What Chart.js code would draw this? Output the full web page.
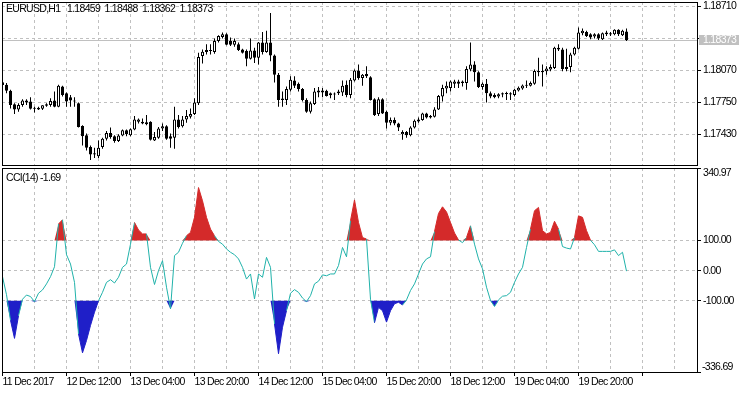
<!DOCTYPE html>
<html>
<head>
<meta charset="utf-8">
<script src="https://cdn.jsdelivr.net/npm/chart.js@4.4.1/dist/chart.umd.min.js"></script>
<style>
  body { margin: 0; background: #fff; }
  #wrap { position: relative; width: 750px; height: 394px; }
  canvas { position: absolute; left: 0; }
  #priceChart { top: 0; }
  #cciChart { top: 166px; }
</style>
</head>
<body>
<div id="wrap">
  <canvas id="priceChart" width="750" height="168"></canvas>
  <canvas id="cciChart" width="750" height="228"></canvas>
</div>
<script>
// EURUSD H1 candles + CCI(14)
const symbol = 'EURUSD,H1';
const cciName = 'CCI(14)';

// one date label every 16 bars, starting at bar 0
const dateLabels = ['11 Dec 2017', '12 Dec 12:00', '13 Dec 04:00', '13 Dec 20:00', '14 Dec 12:00',
    '15 Dec 04:00', '15 Dec 20:00', '18 Dec 12:00', '19 Dec 04:00', '19 Dec 20:00'];

const opens = [1.17950, 1.17925, 1.17865, 1.17730, 1.17679, 1.17723, 1.17767, 1.17757, 1.17689, 1.17696,
    1.17686, 1.17716, 1.17723, 1.17767, 1.17706, 1.17909, 1.17841, 1.17801, 1.17767, 1.17740,
    1.17514, 1.17420, 1.17302, 1.17241, 1.17211, 1.17302, 1.17386, 1.17443, 1.17410, 1.17363,
    1.17417, 1.17470, 1.17420, 1.17477, 1.17555, 1.17555, 1.17551, 1.17555, 1.17369, 1.17396,
    1.17487, 1.17511, 1.17410, 1.17396, 1.17578, 1.17511, 1.17578, 1.17605, 1.17632, 1.17740,
    1.18212, 1.18252, 1.18262, 1.18252, 1.18363, 1.18404, 1.18431, 1.18363, 1.18326, 1.18330,
    1.18279, 1.18262, 1.18185, 1.18269, 1.18195, 1.18347, 1.18252, 1.18347, 1.18219, 1.18026,
    1.17774, 1.17774, 1.17875, 1.17969, 1.17936, 1.17882, 1.17774, 1.17656, 1.17733, 1.17868,
    1.17868, 1.17865, 1.17821, 1.17828, 1.17858, 1.17848, 1.17925, 1.17824, 1.17969, 1.18067,
    1.17993, 1.18033, 1.18000, 1.17780, 1.17632, 1.17780, 1.17656, 1.17545, 1.17572, 1.17538,
    1.17430, 1.17454, 1.17420, 1.17497, 1.17558, 1.17572, 1.17639, 1.17612, 1.17605, 1.17679,
    1.17807, 1.17888, 1.17892, 1.17936, 1.17959, 1.17942, 1.17942, 1.18077, 1.18128, 1.18050,
    1.17902, 1.17936, 1.17841, 1.17824, 1.17807, 1.17841, 1.17834, 1.17841, 1.17824, 1.17868,
    1.17888, 1.17915, 1.17915, 1.17936, 1.18064, 1.18064, 1.18060, 1.18077, 1.18094, 1.18296,
    1.18279, 1.18104, 1.18104, 1.18229, 1.18286, 1.18441, 1.18454, 1.18431, 1.18407, 1.18431,
    1.18380, 1.18448, 1.18441, 1.18431, 1.18475, 1.18421, 1.18459];

const highs = [1.17970, 1.17942, 1.17875, 1.17740, 1.17740, 1.17780, 1.17780, 1.17801, 1.17706, 1.17706,
    1.17720, 1.17740, 1.17791, 1.17858, 1.17925, 1.17915, 1.17848, 1.17824, 1.17801, 1.17747,
    1.17521, 1.17437, 1.17319, 1.17295, 1.17369, 1.17396, 1.17464, 1.17497, 1.17420, 1.17430,
    1.17477, 1.17477, 1.17487, 1.17612, 1.17588, 1.17588, 1.17622, 1.17561, 1.17454, 1.17504,
    1.17538, 1.17521, 1.17437, 1.17706, 1.17622, 1.17612, 1.17673, 1.17689, 1.17791, 1.18246,
    1.18279, 1.18330, 1.18330, 1.18387, 1.18421, 1.18448, 1.18441, 1.18397, 1.18387, 1.18347,
    1.18286, 1.18279, 1.18387, 1.18296, 1.18353, 1.18454, 1.18465, 1.18643, 1.18229, 1.18043,
    1.17858, 1.17909, 1.18010, 1.18010, 1.17949, 1.17892, 1.17791, 1.17757, 1.17892, 1.17902,
    1.17892, 1.17875, 1.17848, 1.17848, 1.17875, 1.17969, 1.17969, 1.17993, 1.18077, 1.18128,
    1.18033, 1.18111, 1.18010, 1.17791, 1.17801, 1.17791, 1.17666, 1.17599, 1.17599, 1.17545,
    1.17470, 1.17464, 1.17511, 1.17578, 1.17599, 1.17646, 1.17646, 1.17622, 1.17700, 1.17824,
    1.17925, 1.17959, 1.17969, 1.17976, 1.17976, 1.17969, 1.18111, 1.18347, 1.18161, 1.18060,
    1.17949, 1.17983, 1.17858, 1.17841, 1.17841, 1.17848, 1.17855, 1.17851, 1.17882, 1.17909,
    1.17929, 1.17969, 1.17959, 1.18077, 1.18195, 1.18128, 1.18111, 1.18128, 1.18306, 1.18330,
    1.18296, 1.18286, 1.18246, 1.18306, 1.18498, 1.18488, 1.18465, 1.18441, 1.18441, 1.18441,
    1.18448, 1.18465, 1.18454, 1.18481, 1.18481, 1.18475, 1.18488];

const lows = [1.17900, 1.17841, 1.17689, 1.17632, 1.17656, 1.17706, 1.17723, 1.17679, 1.17649, 1.17673,
    1.17673, 1.17706, 1.17706, 1.17700, 1.17700, 1.17807, 1.17706, 1.17706, 1.17706, 1.17497,
    1.17319, 1.17268, 1.17174, 1.17194, 1.17194, 1.17285, 1.17369, 1.17386, 1.17346, 1.17352,
    1.17410, 1.17410, 1.17410, 1.17470, 1.17538, 1.17531, 1.17521, 1.17369, 1.17363, 1.17386,
    1.17464, 1.17376, 1.17295, 1.17285, 1.17487, 1.17497, 1.17545, 1.17588, 1.17622, 1.17723,
    1.18138, 1.18229, 1.18229, 1.18235, 1.18347, 1.18387, 1.18320, 1.18313, 1.18306, 1.18262,
    1.18239, 1.18111, 1.18178, 1.18144, 1.18128, 1.18229, 1.18246, 1.18161, 1.17949, 1.17706,
    1.17706, 1.17723, 1.17858, 1.17892, 1.17858, 1.17757, 1.17646, 1.17639, 1.17723, 1.17801,
    1.17801, 1.17807, 1.17791, 1.17774, 1.17824, 1.17814, 1.17801, 1.17791, 1.17959, 1.17976,
    1.17915, 1.17993, 1.17767, 1.17612, 1.17612, 1.17632, 1.17487, 1.17521, 1.17521, 1.17464,
    1.17376, 1.17396, 1.17410, 1.17487, 1.17545, 1.17565, 1.17588, 1.17588, 1.17599, 1.17673,
    1.17757, 1.17841, 1.17858, 1.17892, 1.17892, 1.17909, 1.17875, 1.18060, 1.17959, 1.17892,
    1.17875, 1.17747, 1.17791, 1.17791, 1.17791, 1.17801, 1.17774, 1.17774, 1.17807, 1.17858,
    1.17875, 1.17892, 1.17909, 1.17925, 1.18010, 1.17909, 1.18026, 1.18060, 1.18084, 1.18262,
    1.18060, 1.18060, 1.18050, 1.18219, 1.18279, 1.18421, 1.18404, 1.18380, 1.18387, 1.18374,
    1.18374, 1.18414, 1.18414, 1.18421, 1.18414, 1.18414, 1.18362];

const closes = [1.17922, 1.17865, 1.17723, 1.17679, 1.17723, 1.17767, 1.17747, 1.17686, 1.17686, 1.17679,
    1.17720, 1.17730, 1.17764, 1.17706, 1.17915, 1.17824, 1.17757, 1.17767, 1.17757, 1.17504,
    1.17410, 1.17295, 1.17228, 1.17228, 1.17295, 1.17386, 1.17443, 1.17403, 1.17363, 1.17417,
    1.17470, 1.17430, 1.17481, 1.17578, 1.17578, 1.17538, 1.17531, 1.17376, 1.17403, 1.17487,
    1.17511, 1.17386, 1.17386, 1.17578, 1.17504, 1.17578, 1.17612, 1.17632, 1.17747, 1.18202,
    1.18256, 1.18273, 1.18273, 1.18363, 1.18414, 1.18431, 1.18326, 1.18326, 1.18363, 1.18273,
    1.18246, 1.18185, 1.18269, 1.18195, 1.18347, 1.18252, 1.18347, 1.18219, 1.18026, 1.17774,
    1.17787, 1.17882, 1.17976, 1.17915, 1.17882, 1.17774, 1.17656, 1.17740, 1.17858, 1.17848,
    1.17848, 1.17814, 1.17841, 1.17834, 1.17841, 1.17915, 1.17824, 1.17976, 1.18067, 1.17993,
    1.18026, 1.18010, 1.17774, 1.17622, 1.17780, 1.17639, 1.17545, 1.17572, 1.17538, 1.17497,
    1.17454, 1.17420, 1.17497, 1.17565, 1.17578, 1.17639, 1.17599, 1.17599, 1.17679, 1.17814,
    1.17892, 1.17915, 1.17959, 1.17959, 1.17936, 1.17959, 1.18084, 1.18128, 1.18050, 1.17902,
    1.17936, 1.17841, 1.17807, 1.17801, 1.17831, 1.17828, 1.17841, 1.17828, 1.17875, 1.17895,
    1.17919, 1.17925, 1.17942, 1.18064, 1.18050, 1.18050, 1.18087, 1.18104, 1.18296, 1.18279,
    1.18084, 1.18084, 1.18229, 1.18296, 1.18448, 1.18465, 1.18414, 1.18397, 1.18431, 1.18387,
    1.18441, 1.18431, 1.18427, 1.18475, 1.18431, 1.18465, 1.18373];

const cci = [-20, -80, -165, -225, -150, -95, -81, -86, -103, -75,
    -64, -44, -20, 13, 155, 169, 53, 22, -39, -210,
    -273, -232, -182, -138, -100, -72, -39, -30, -41, -22,
    11, 22, 88, 160, 135, 122, 122, 11, -46, 0,
    33, -55, -127, 50, 61, 91, 116, 127, 177, 276,
    232, 177, 138, 116, 97, 88, 72, 61, 53, 39,
    11, -28, -11, -94, -11, -22, 44, 11, -177, -276,
    -188, -133, -75, -63, -72, -91, -103, -83, -44, -35,
    -14, -17, -11, -11, 17, 77, 46, 166, 235, 160,
    110, 105, -95, -173, -122, -133, -171, -133, -110, -105,
    -114, -97, -66, -44, -11, 22, 39, 46, 130, 190,
    212, 195, 160, 125, 102, 93, 110, 149, 88, 39,
    6, -55, -99, -119, -97, -85, -83, -72, -39, -11,
    11, 77, 138, 199, 210, 133, 122, 127, 164, 138,
    80, 75, 72, 110, 182, 177, 133, 101, 86, 64,
    64, 64, 64, 69, 50, 61, -1.69];

// axis ranges and tick values as shown on the right scales
const priceRange = [1.17123, 1.18753];
const priceTicks = [1.17430, 1.17750, 1.18070, 1.18390, 1.18710];
const cciRange = [-336.69, 340.97];
const cciLevels = [100, 0, -100];

const FONT = "'Liberation Sans', Arial, sans-serif";
const font = { family: FONT, size: 10.5 };
const GRID = '#c0c0c0';
const CCI_LINE = '#20b2aa';
const CCI_HIGH = '#d42a2a';
const CCI_LOW = '#1f1fc8';

const last = closes.length - 1;
const idx = closes.map((_, i) => i);
const gridBars = [];
for (let i = 0; i <= 168; i += 8) gridBars.push(i);

// terminal font is narrow, tighten the spacing a bit
const tightText = {
    id: 'tightText',
    beforeDraw(chart) { chart.ctx.letterSpacing = '-0.7px'; }
};

// shared time axis: 4 px per bar, grid every 8 bars, labels every 16
const timeAxis = (showLabels) => ({
    type: 'linear',
    min: -0.125,
    max: 173.625,
    bounds: 'data',
    offset: false,
    afterBuildTicks: s => { s.ticks = gridBars.map(v => ({ value: v })); },
    afterFit: s => {
        s.height = showLabels ? 22 : 0;
        s.paddingLeft = 0; s.paddingRight = 0;
    },
    grid: {
        color: GRID,
        offset: false,
        drawTicks: showLabels,
        tickLength: 4,
        tickBorderDash: [],
        tickColor: c => (c.tick && c.tick.value % 16 === 0) ? '#000' : 'rgba(0,0,0,0)'
    },
    border: { display: false, dash: [3, 3] },
    ticks: {
        display: showLabels,
        autoSkip: false,
        maxRotation: 0,
        align: 'start',
        padding: 0,
        color: '#000',
        font,
        callback: v => v % 16 === 0 ? (dateLabels[v / 16] || '') : ''
    }
});

const frame = (chart) => {
    const { ctx, chartArea: a } = chart;
    ctx.save();
    ctx.strokeStyle = '#000';
    ctx.lineWidth = 1;
    ctx.strokeRect(a.left + 0.5, a.top + 0.5, a.right - a.left, a.bottom - a.top);
    ctx.restore();
};

// Price pane
const priceDecor = {
    id: 'priceDecor',
    beforeDatasetsDraw(chart) {
        const { ctx, chartArea: a, scales: { y } } = chart;
        const py = Math.round(y.getPixelForValue(closes[last])) + 0.5;
        ctx.save();
        ctx.strokeStyle = GRID;
        ctx.lineWidth = 1;
        ctx.beginPath();
        ctx.moveTo(a.left, py);
        ctx.lineTo(a.right, py);
        ctx.stroke();
        ctx.restore();
    },
    afterDraw(chart) {
        const { ctx, chartArea: a, scales: { y } } = chart;
        frame(chart);
        ctx.save();
        ctx.font = `10.5px ${FONT}`;
        ctx.textBaseline = 'middle';
        ctx.fillStyle = '#000';
        const ohlc = [opens[last], highs[last], lows[last], closes[last]].map(v => v.toFixed(5)).join('  ');
        ctx.fillText(symbol, 6, 9);
        ctx.fillText(ohlc, 67, 9);
        const py = Math.round(y.getPixelForValue(closes[last]));
        ctx.fillStyle = GRID;
        ctx.fillRect(a.right + 2, py - 5, 40, 10);
        ctx.fillStyle = '#fff';
        ctx.fillText(closes[last].toFixed(5), a.right + 6, py + 0.5);
        ctx.restore();
    }
};

new Chart(document.getElementById('priceChart'), {
    type: 'bar',
    data: {
        datasets: [{
            // candle bodies
            data: idx.map(i => ({ x: i, y: [opens[i], closes[i]] })),
            backgroundColor: idx.map(i => closes[i] >= opens[i] ? '#ffffff' : '#000000'),
            borderColor: '#000',
            borderWidth: 1,
            borderSkipped: false,
            barThickness: 3,
            minBarLength: 1,
            inflateAmount: 0,
            grouped: false,
            order: 0
        }, {
            // wicks
            data: idx.map(i => ({ x: i, y: [lows[i], highs[i]] })),
            backgroundColor: '#000',
            borderWidth: 0,
            barThickness: 1,
            inflateAmount: 0,
            grouped: false,
            order: 1
        }]
    },
    options: {
        responsive: false,
        animation: false,
        events: [],
        layout: { padding: { left: 2, top: 2, right: 0, bottom: 3 } },
        plugins: { legend: { display: false }, tooltip: { enabled: false } },
        scales: {
            x: timeAxis(false),
            y: {
                position: 'right',
                min: priceRange[0],
                max: priceRange[1],
                bounds: 'data',
                afterBuildTicks: s => { s.ticks = priceTicks.map(v => ({ value: v })); },
                afterFit: s => { s.width = 53; s.paddingTop = 0; s.paddingBottom = 0; },
                grid: { color: GRID, tickLength: 4, tickColor: '#000', tickBorderDash: [] },
                border: { display: false, dash: [3, 3] },
                ticks: {
                    padding: 2,
                    color: '#000',
                    font,
                    callback: v => Math.abs(v - closes[last]) < 0.0003 ? '' : v.toFixed(5)
                }
            }
        }
    },
    plugins: [tightText, priceDecor]
});

// CCI pane: line plus the parts beyond +/-100, filled back to the level
const cciDecor = {
    id: 'cciDecor',
    afterDraw(chart) {
        const { ctx, chartArea: a, scales: { y } } = chart;
        frame(chart);
        ctx.save();
        ctx.font = `10.5px ${FONT}`;
        ctx.textBaseline = 'middle';
        ctx.fillStyle = '#000';
        ctx.fillText(`${cciName} ${cci[last].toFixed(2)}`, 6, 12);
        ctx.fillText(y.max.toFixed(2), a.right + 6, a.top + 5.5);
        ctx.fillText(y.min.toFixed(2), a.right + 5, a.bottom - 5);
        ctx.restore();
    }
};

const cciPts = idx.map(i => ({ x: i, y: cci[i] }));
const overPts = idx.map(i => ({ x: i, y: Math.max(cci[i], cciLevels[0]) }));
const underPts = idx.map(i => ({ x: i, y: Math.min(cci[i], cciLevels[2]) }));

new Chart(document.getElementById('cciChart'), {
    type: 'line',
    data: {
        datasets: [{
            data: cciPts,
            borderColor: CCI_LINE,
            borderWidth: 1,
            pointRadius: 0,
            tension: 0,
            fill: false,
            segment: {
                borderColor: c => {
                    const a = c.p0.parsed.y, b = c.p1.parsed.y;
                    if (a >= 100 && b >= 100) return CCI_HIGH;
                    if (a <= -100 && b <= -100) return CCI_LOW;
                    return undefined;
                }
            },
            order: 0
        }, {
            data: overPts,
            borderColor: 'rgba(0,0,0,0)',
            backgroundColor: CCI_HIGH,
            borderWidth: 1,
            pointRadius: 0,
            tension: 0,
            fill: { target: { value: cciLevels[0] } },
            order: 1
        }, {
            data: underPts,
            borderColor: 'rgba(0,0,0,0)',
            backgroundColor: CCI_LOW,
            borderWidth: 1,
            pointRadius: 0,
            tension: 0,
            fill: { target: { value: cciLevels[2] } },
            order: 2
        }]
    },
    options: {
        responsive: false,
        animation: false,
        events: [],
        layout: { padding: { left: 2, top: 2, right: 0, bottom: 0 } },
        plugins: { legend: { display: false }, tooltip: { enabled: false } },
        scales: {
            x: timeAxis(true),
            y: {
                position: 'right',
                min: cciRange[0],
                max: cciRange[1],
                bounds: 'data',
                afterBuildTicks: s => {
                    s.ticks = [cciRange[1], ...cciLevels, cciRange[0]].map(v => ({ value: v }));
                },
                afterFit: s => { s.width = 53; s.paddingTop = 0; s.paddingBottom = 0; },
                grid: { color: GRID, tickLength: 4, tickColor: '#000', tickBorderDash: [] },
                border: { display: false, dash: [3, 3] },
                ticks: {
                    padding: 2,
                    color: '#000',
                    font,
                    callback: v => cciLevels.includes(v) ? v.toFixed(2) : ''
                }
            }
        }
    },
    plugins: [tightText, cciDecor]
});
</script>
</body>
</html>
